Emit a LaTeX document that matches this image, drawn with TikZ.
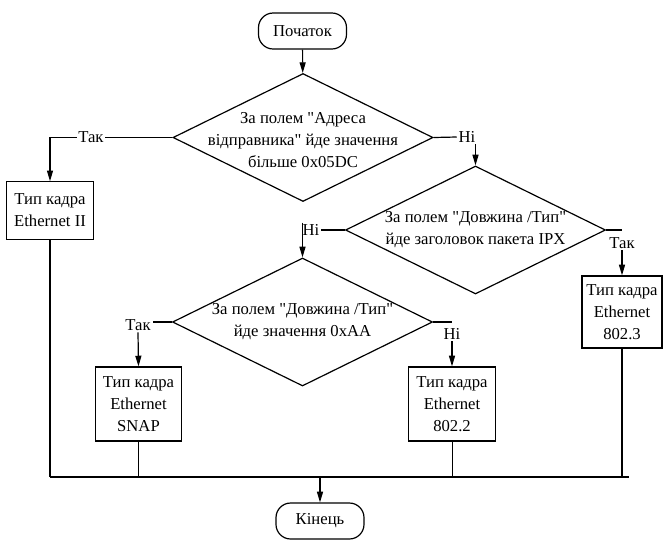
\documentclass[tikz,border=0pt]{standalone}
\usepackage{fontspec}
\setmainfont{Liberation Serif}[Ligatures=TeXOff]
\usetikzlibrary{arrows.meta,shapes.geometric,positioning}

\begin{document}
\begin{tikzpicture}
  [x=0.75pt,y=-0.75pt,line width=0.9pt,
   font=\fontsize{12.5}{16.5}\selectfont,
   >={Triangle[length=8pt,width=4.5pt]},
   terminal/.style={rectangle,draw,rounded corners=11pt,minimum width=66pt,minimum height=27pt,inner sep=2pt},
   decision/.style={diamond,draw,minimum width=195pt,minimum height=96pt,inner sep=0pt},
   cond/.style={align=center,inner sep=0pt},
   process/.style={rectangle,draw,align=center,minimum width=65pt,minimum height=55.5pt,inner sep=2pt},
   answer/.style={inner sep=1pt},
   bus/.style={line width=1.5pt},
   drop/.style={line width=0.7pt}]
  \useasboundingbox (0,0) rectangle (663,540);
  \node[terminal] (start) at (302.5,31) {Початок};
  \node[decision] (adr) at (303,137.5) {};
  \node[cond] (adrtxt) at (303,140) {За полем "Адреса\\відправника" йде значення\\більше 0x05DC};
  \node[decision] (ipx) at (475.5,230) {};
  \node[cond] (ipxtxt) at (475.5,230) {За полем "Довжина /Тип"\\йде заголовок пакета IPX};
  \node[decision] (aa) at (302.5,322) {};
  \node[cond] (aatxt) at (302.5,322) {За полем "Довжина /Тип"\\йде значення 0xAA};
  \node[process,minimum height=43pt] (eth2) at (50,210.5) {Тип кадра\\Ethernet II};
  \node[process] (snap) at (138.5,404) {Тип кадра\\Ethernet\\SNAP};
  \node[process] (e8022) at (452,404) {Тип кадра\\Ethernet\\802.2};
  \node[process,minimum width=60pt,minimum height=54pt] (e8023) at (622,312) {Тип кадра\\Ethernet\\802.3};
  \node[terminal] (finish) at (320,521) {Кінець};
  \node[answer] (adrno) at (467,137) {Ні};
  \node[answer] (ipxno) at (311,230) {Ні};
  \node[answer] (ipxyes) at (622,243) {Так};
  \node[answer] (aayes) at (138,325) {Так};
  \node[answer] (aano) at (452,334) {Ні};
  \coordinate (busl) at (50,477);
  \coordinate (busr) at (629,477);
  \draw [->] (start) -- (adr);
  \draw [->] (adr.west) -| node[answer,fill=white,pos=.333] (adryes) {Так} (eth2.north);
  \draw (adr.east) -- (adrno.west);
  \draw [->] (adrno.south -| ipx.north) -- (ipx.north);
  \draw (ipx.west) -- (ipxno.east);
  \draw [->] (aa.north |- ipxno.north) -- (aa.north);
  \draw (ipx.east) -- (ipx.east -| ipxyes);
  \draw [->] (ipxyes.south) -- (e8023.north);
  \draw (aa.west) -- (aa.west -| aayes.east);
  \draw [->] (aayes.south) -- (snap.north);
  \draw (aa.east) -- (aa.east -| aano);
  \draw [->] (aano.south) -- (e8022.north);
  \draw [bus] (busl) -- (busr);
  \draw (eth2.south) -- (eth2.south |- busl);
  \draw [drop] (snap.south) -- (snap.south |- busl);
  \draw [drop] (e8022.south) -- (e8022.south |- busl);
  \draw (e8023.south) -- (e8023.south |- busl);
  \draw [->] (finish.north |- busl) -- (finish.north);
\end{tikzpicture}
\end{document}
